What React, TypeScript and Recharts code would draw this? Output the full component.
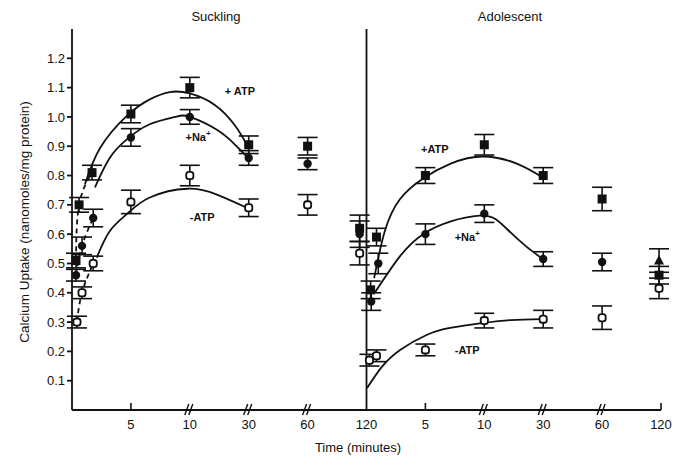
import React from 'react';
import { ComposedChart, Line, Scatter, ErrorBar, XAxis, YAxis, ReferenceLine } from 'recharts';

// [minutes, calcium uptake, error]
type Pt = [number, number, number];
type Fit = [number, number];

const suckATP: Pt[] = [[0.34, 0.51, 0.025], [0.6, 0.70, 0.025], [1.7, 0.81, 0.025], [5, 1.01, 0.03], [10, 1.10, 0.035], [30, 0.905, 0.03], [60, 0.90, 0.03], [113, 0.62, 0.045]];
const suckNa: Pt[] = [[0.34, 0.46, 0.02], [0.85, 0.56, 0.03], [1.8, 0.655, 0.03], [5, 0.93, 0.03], [10, 1.0, 0.025], [30, 0.86, 0.025], [60, 0.84, 0.02], [113, 0.60, 0.045]];
const suckNoATP: Pt[] = [[0.42, 0.30, 0.02], [0.85, 0.40, 0.02], [1.8, 0.50, 0.025], [5, 0.71, 0.04], [10, 0.80, 0.035], [30, 0.69, 0.03], [60, 0.70, 0.035], [113, 0.535, 0.04]];

const adolATP: Pt[] = [[0.35, 0.41, 0.03], [0.85, 0.59, 0.03], [5, 0.80, 0.027], [10, 0.905, 0.035], [30, 0.80, 0.027], [60, 0.72, 0.04], [118, 0.46, 0.03]];
const adolNa: Pt[] = [[0.4, 0.37, 0.03], [1.0, 0.50, 0.035], [5, 0.60, 0.035], [10, 0.67, 0.03], [30, 0.515, 0.025], [60, 0.505, 0.03]];
const adolNaEnd: Pt[] = [[118, 0.51, 0.04]];
const adolNoATP: Pt[] = [[0.25, 0.17, 0.02], [0.85, 0.185, 0.02], [5, 0.205, 0.02], [10, 0.305, 0.025], [30, 0.31, 0.03], [60, 0.315, 0.04], [118, 0.415, 0.035]];

// fitted curves as drawn
const suckATPFit: Fit[] = [[1.1, 0.77], [2.4, 0.895], [4.7, 1.005], [6.6, 1.06], [8.3, 1.085], [10, 1.08], [18.6, 1.04], [25.4, 0.97], [29.4, 0.905]];
const suckNaFit: Fit[] = [[1.95, 0.76], [3.2, 0.86], [4.7, 0.925], [6.6, 0.975], [8.75, 1.0], [10, 1.0], [19.2, 0.956], [25.4, 0.905], [29.4, 0.865]];
const suckNoFit: Fit[] = [[2.1, 0.52], [3.2, 0.61], [4.7, 0.67], [6.6, 0.725], [9.8, 0.755], [19.2, 0.735], [29.4, 0.69]];
const adolATPFit: Fit[] = [[0.65, 0.45], [1.55, 0.61], [2.85, 0.72], [4.8, 0.79], [7.1, 0.84], [9.9, 0.865], [21.2, 0.84], [29.6, 0.795]];
const adolNaFit: Fit[] = [[0.7, 0.40], [2.85, 0.525], [4.8, 0.60], [7.1, 0.643], [9.6, 0.663], [14, 0.65], [19, 0.605], [24, 0.56], [29.2, 0.52]];
const adolNoFit: Fit[] = [[0.05, 0.075], [1.3, 0.147], [2.85, 0.205], [5.1, 0.256], [7.1, 0.28], [9.9, 0.297], [19, 0.307], [29.6, 0.31]];

const tickLabels = ['5', '10', '30', '60', '120', '5', '10', '30', '60', '120'];
const yTicks = [0.1, 0.2, 0.3, 0.4, 0.5, 0.6, 0.7, 0.8, 0.9, 1.0, 1.1, 1.2];

// curve labels: x is axis position, v uptake
const notes = [
  { x: 2.85, v: 1.09, text: '+ ATP' },
  { x: 2.14, v: 0.93, text: '+Na', sup: '+' },
  { x: 2.21, v: 0.66, text: '-ATP' },
  { x: 6.16, v: 0.89, text: '+ATP' },
  { x: 6.71, v: 0.59, text: '+Na', sup: '+' },
  { x: 6.71, v: 0.205, text: '-ATP' },
];

// broken time axis: 0-10 linear, then 30, 60, 120 one step each
const brk = (t: number) => (t <= 10 ? t / 5 : t <= 30 ? 2 + (t - 10) / 20 : t <= 60 ? 3 + (t - 30) / 30 : 4 + (t - 60) / 60);
const pts = (a: Pt[], off: number) => a.map(([t, v, e]) => ({ x: off + brk(t), v, e }));
const fit = (a: Fit[], off: number) => a.map(([t, v]) => ({ x: off + brk(t), v }));

const INK = '#111';

const Square = (p: any) => <rect x={p.cx - 4.5} y={p.cy - 4.5} width={9} height={9} fill={INK} />;
const Dot = (p: any) => <circle cx={p.cx} cy={p.cy} r={4.2} fill={INK} />;
const Open = (p: any) => <rect x={p.cx - 3.6} y={p.cy - 3.6} width={7.2} height={7.2} rx={2.6} fill="#fff" stroke={INK} strokeWidth={1.8} />;
const Tri = (p: any) => <path d={`M${p.cx},${p.cy - 5.5}L${p.cx + 5},${p.cy + 4}L${p.cx - 5},${p.cy + 4}Z`} fill={INK} />;
const Note = (p: any) => (
  <text x={p.cx} y={p.cy} textAnchor="middle" dominantBaseline="central" fontSize={11} fontWeight="bold" fill={INK}>
    {p.payload.text}
    {p.payload.sup && <tspan dy={-4} fontSize={8}>{p.payload.sup}</tspan>}
  </text>
);

const XTick = (props: any) => {
  const { x, y, payload } = props;
  const i = Math.round(payload.value) - 1;
  const brkMark = [2, 3, 4, 7, 8, 9].includes(payload.value);
  const upTick = [1, 6, 10].includes(payload.value);
  return (
    <g>
      {upTick && <line x1={x} x2={x} y1={y} y2={y - 7} stroke={INK} strokeWidth={1.6} />}
      {brkMark && (
        <g stroke={INK} strokeWidth={1.4}>
          <line x1={x - 5} y1={y + 5} x2={x - 1} y2={y - 6} />
          <line x1={x - 1} y1={y + 5} x2={x + 3} y2={y - 6} />
        </g>
      )}
      <text x={x} y={y + 19} textAnchor="middle" fontSize={13} fill={INK}>{tickLabels[i]}</text>
    </g>
  );
};

const series = (data: any[], shape: any, key: string) => (
  <Scatter key={key} data={data} dataKey="v" shape={shape} isAnimationActive={false}>
    <ErrorBar dataKey="e" direction="y" width={10} stroke={INK} strokeWidth={1.6} />
  </Scatter>
);

const curve = (data: any[], key: string, dash?: string) => (
  <Line key={key} data={data} dataKey="v" type="natural" dot={false} stroke={INK} strokeWidth={1.8}
    strokeDasharray={dash} isAnimationActive={false} />
);

const txt: React.CSSProperties = { position: 'absolute', fontSize: 13, color: INK, whiteSpace: 'nowrap' };

export default function App() {
  return (
    <div style={{ position: 'absolute', left: 0, top: 0, width: 684, height: 458, background: '#fff', fontFamily: '"Liberation Sans", Arial, sans-serif' }}>
      <ComposedChart width={684} height={458} margin={{ top: 29, right: 23, bottom: 0, left: 0 }}>
        <XAxis dataKey="x" type="number" domain={[0, 10]} ticks={[1, 2, 3, 4, 5, 6, 7, 8, 9, 10]}
          height={48} tickLine={false} tickSize={0} tickMargin={0} tick={<XTick />} stroke={INK} strokeWidth={1.8} />
        <YAxis type="number" domain={[0, 1.3]} ticks={yTicks} width={72} tickSize={5}
          tickFormatter={(v: number) => v.toFixed(1)} tick={{ fontSize: 13, fill: INK }} stroke={INK} strokeWidth={1.8} />
        <ReferenceLine x={5} stroke={INK} strokeWidth={1.8} />

        {curve(fit(suckATPFit, 0), 'f1')}
        {curve(fit(suckNaFit, 0), 'f2')}
        {curve(fit(suckNoFit, 0), 'f3')}
        {curve(fit(adolATPFit, 5), 'f4')}
        {curve(fit(adolNaFit, 5), 'f5')}
        {curve(fit(adolNoFit, 5), 'f6')}
        {curve(pts(suckATP.slice(0, 3), 0), 'd1', '5 4')}
        {curve(pts(suckNa.slice(0, 3), 0), 'd2', '5 4')}
        {curve(pts(suckNoATP.slice(0, 3), 0), 'd3', '5 4')}

        {series(pts(suckATP, 0), Square, 's1')}
        {series(pts(suckNa, 0), Dot, 's2')}
        {series(pts(suckNoATP, 0), Open, 's3')}
        {series(pts(adolATP, 5), Square, 's4')}
        {series(pts(adolNa, 5), Dot, 's5')}
        {series(pts(adolNaEnd, 5), Tri, 's6')}
        {series(pts(adolNoATP, 5), Open, 's7')}

        <Scatter data={notes} dataKey="v" shape={Note} isAnimationActive={false} />
      </ComposedChart>

      <div style={{ ...txt, left: 216, top: 16, transform: 'translate(-50%,-50%)' }}>Suckling</div>
      <div style={{ ...txt, left: 510, top: 16, transform: 'translate(-50%,-50%)' }}>Adolescent</div>
      <div style={{ ...txt, left: 358, top: 447, transform: 'translate(-50%,-50%)' }}>Time (minutes)</div>
      <div style={{ ...txt, left: 24, top: 222, fontSize: 13.5, transform: 'translate(-50%,-50%) rotate(-90deg)' }}>
        Calcium Uptake (nanomoles/mg protein)
      </div>
    </div>
  );
}
